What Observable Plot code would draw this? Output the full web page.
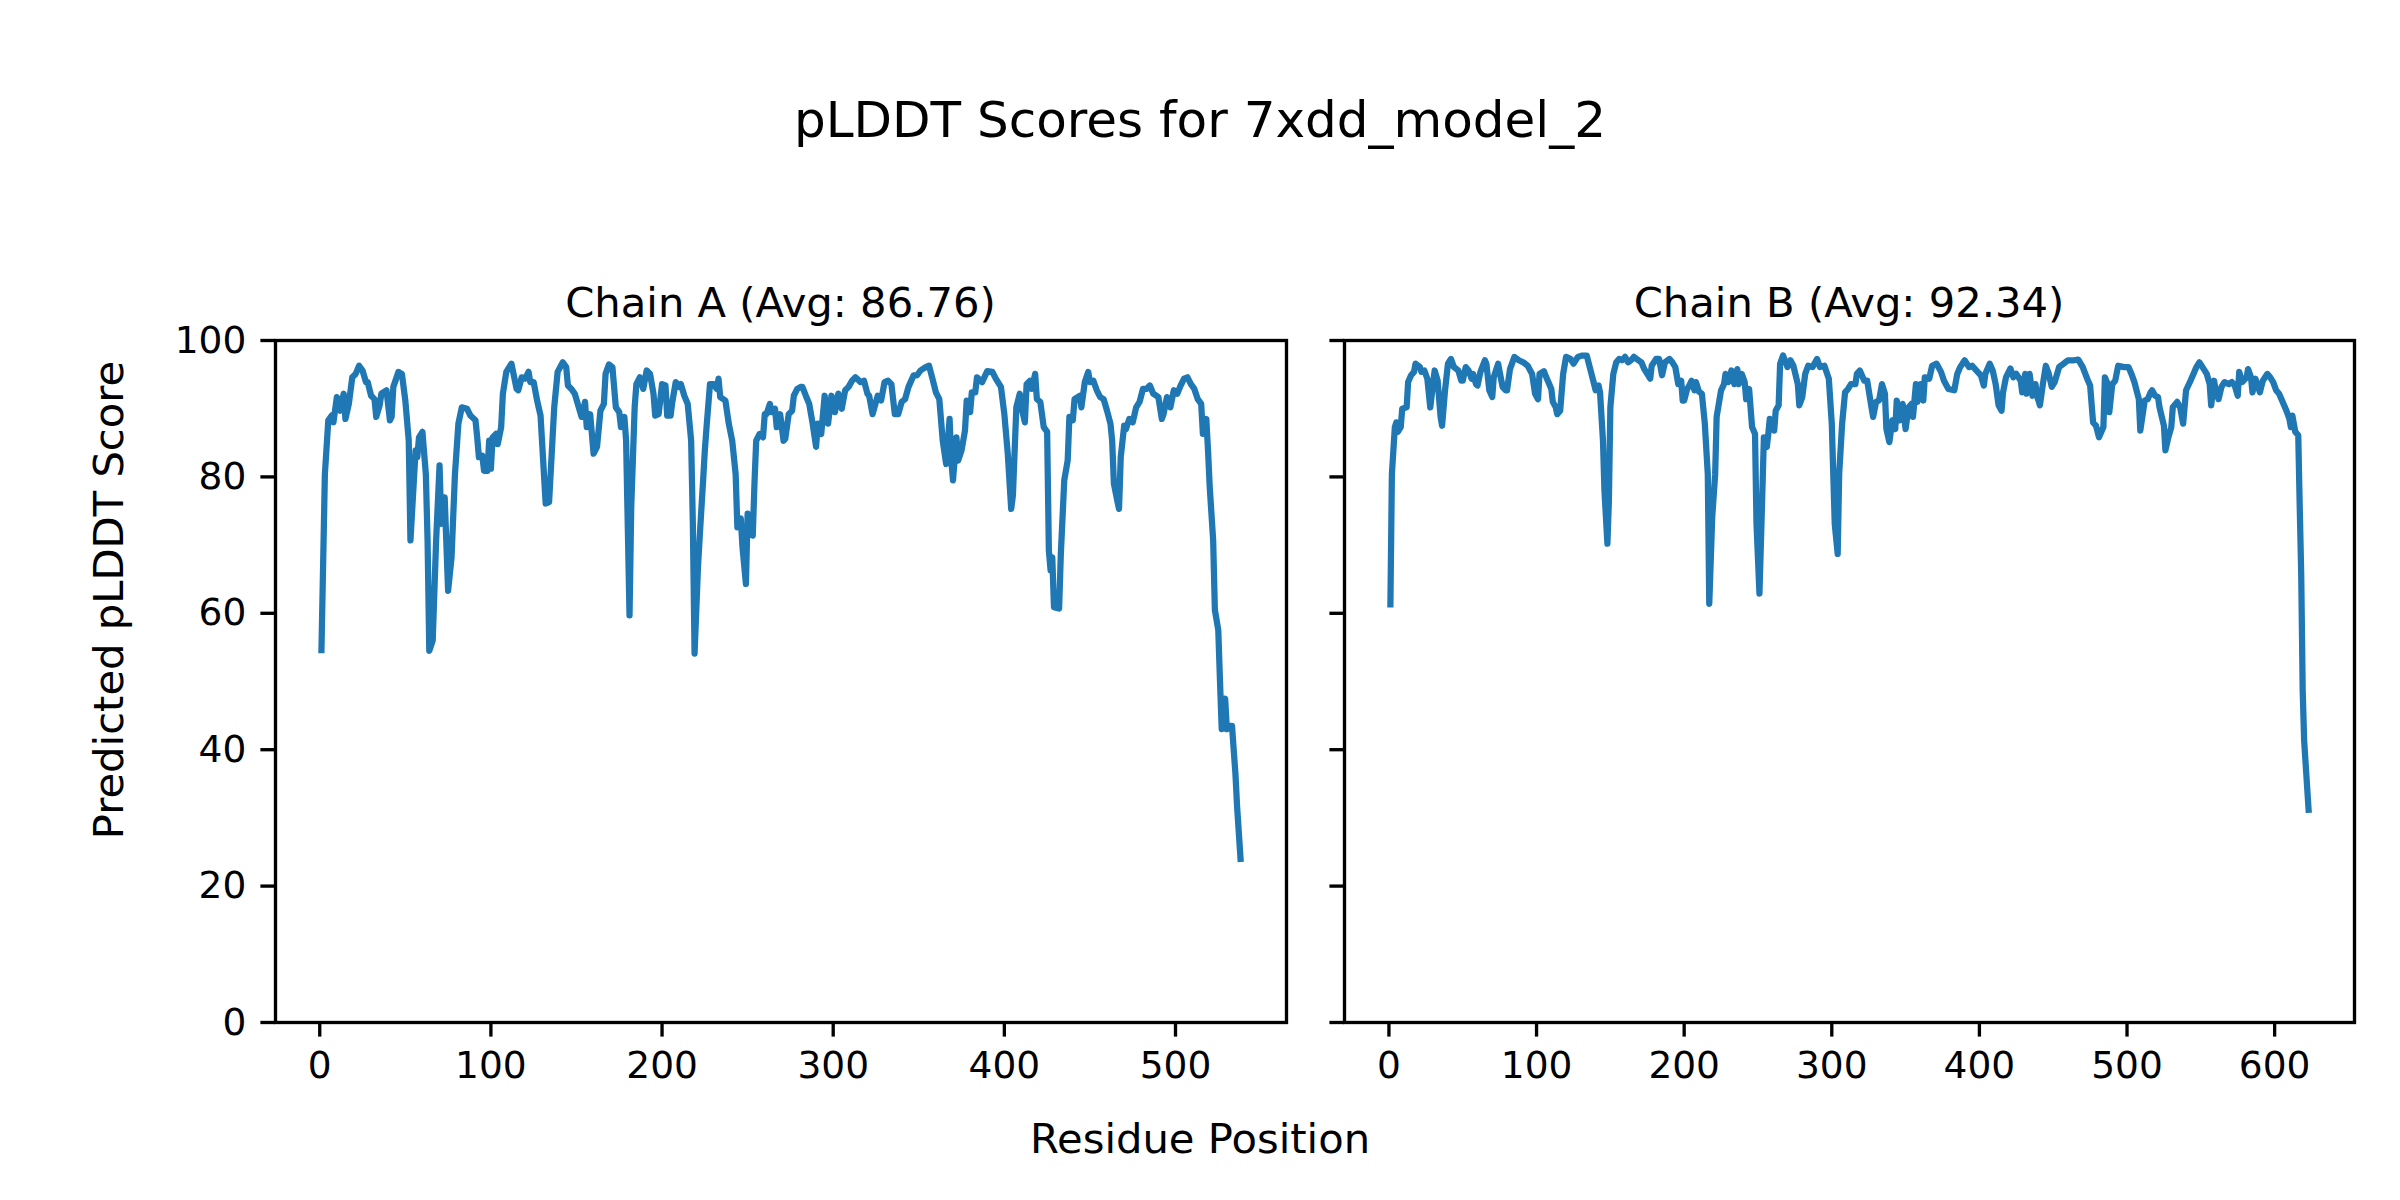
<!DOCTYPE html>
<html>
<head>
<meta charset="utf-8">
<script src="https://cdn.jsdelivr.net/npm/d3@7"></script>
<script src="https://cdn.jsdelivr.net/npm/@observablehq/plot@0.6"></script>
<style>
  html, body { margin: 0; padding: 0; background: #ffffff; }
  #fig { position: relative; width: 2400px; height: 1200px; background: #ffffff; font-family: "DejaVu Sans", sans-serif; color: #000; overflow: hidden; }
  #fig svg { position: absolute; left: 0; top: 0; max-width: none; }
  .txt { position: absolute; white-space: nowrap; line-height: 1; }
</style>
</head>
<body>
<div id="fig"></div>
<script>
// ---------------- data ----------------
const figureTitle = "pLDDT Scores for 7xdd_model_2";
const xAxisLabel = "Residue Position";
const yAxisLabel = "Predicted pLDDT Score";
const chainNames = ["A", "B"];
const chainAverages = [86.76, 92.34];
const xTicksA = [0, 100, 200, 300, 400, 500];
const xTicksB = [0, 100, 200, 300, 400, 500, 600];
const yTicks = [0, 20, 40, 60, 80, 100];

// [residue, pLDDT]
const chainA = [[1,54.6],[3,80.4],[5,88.3],[7,89],[8,88],[10,91.7],[12,89.7],[14,92.2],[15,88.5],[17,90.7],[19,94.6],[21,95.1],[23,96.3],[25,95.6],[27,93.9],[28,93.9],[30,91.9],[32,91.4],[33,88.8],[35,90.5],[36,92.2],[39,92.7],[41,88.3],[42,88.8],[43,93.2],[46,95.4],[48,95.1],[50,91.2],[52,85.3],[53,70.7],[55,79.5],[56,83.9],[57,82.9],[58,85.8],[60,86.6],[62,80.4],[63,70.7],[64,54.5],[66,56],[68,70.7],[70,81.7],[71,73.1],[73,77],[75,63.3],[77,68.2],[79,80.4],[81,87.8],[83,90.2],[86,90],[88,89],[91,88.3],[92,85.8],[93,82.9],[95,83.1],[96,80.9],[98,80.9],[99,85.3],[100,81.2],[101,85.8],[103,86.3],[104,84.8],[106,87.3],[107,92.2],[109,95.4],[112,96.6],[115,92.9],[116,92.7],[118,94.6],[120,94.4],[122,95.4],[123,93.9],[125,93.9],[127,91.2],[129,89],[132,76.1],[134,76.3],[137,90.2],[139,95.4],[142,96.8],[144,96.1],[145,93.4],[147,92.9],[149,92.2],[151,90.5],[153,88.8],[155,91],[156,87.3],[158,89.2],[160,83.4],[162,84.4],[164,89.7],[166,90.7],[167,95.1],[169,96.5],[171,96.1],[173,90.2],[175,89.5],[176,87.3],[178,88.8],[179,85.3],[181,59.7],[182,75.6],[184,90.2],[185,93.6],[187,94.6],[189,92.9],[191,95.6],[193,95.1],[195,92.2],[196,89],[198,89.2],[200,93.6],[202,93.4],[203,89],[205,89],[206,91],[208,93.9],[210,93.2],[211,93.6],[213,91.9],[215,90.7],[217,85.3],[218,73.1],[219,54.1],[221,66.8],[222,71.2],[224,79.5],[225,83.9],[226,87.3],[228,93.6],[230,93.6],[232,92.9],[233,94.4],[234,91.7],[237,91.2],[239,87.8],[241,85.3],[243,80.4],[244,72.6],[246,73.9],[247,69.7],[249,64.3],[250,74.6],[251,71.7],[253,71.4],[254,79],[255,85.3],[257,86.3],[259,85.8],[260,89.2],[261,89.2],[263,90.7],[264,89.5],[266,90],[267,87.3],[269,89.2],[271,85.3],[272,85.6],[274,89.2],[276,89.7],[277,91.9],[279,92.9],[281,93.2],[282,93.2],[284,91.9],[286,90.7],[288,87.8],[290,84.4],[291,87.8],[293,86.3],[295,91.9],[297,87.8],[299,91.9],[301,89.5],[303,92.2],[305,90],[307,92.7],[309,93.2],[311,94.1],[313,94.6],[316,93.9],[318,94.1],[320,92.2],[321,91.9],[323,89.2],[326,91.9],[328,91.2],[330,93.9],[332,94.1],[334,93.6],[336,89.2],[338,89.2],[340,91],[342,91.4],[344,93.2],[347,94.9],[349,94.9],[351,95.6],[354,96.1],[356,96.3],[358,94.4],[360,92.4],[362,91.4],[364,85.3],[366,81.9],[368,88.5],[369,82.4],[370,79.5],[372,85.8],[373,82.4],[375,83.9],[377,86.8],[378,91.2],[380,89.5],[381,92.4],[383,92.4],[384,94.6],[387,93.9],[390,95.5],[393,95.4],[395,94.4],[398,93.2],[400,89.2],[402,83.4],[404,75.3],[405,77.3],[407,90.2],[409,92.2],[410,90.2],[412,88],[413,93.6],[415,94.1],[416,92.9],[418,95.1],[419,91.4],[421,91],[423,87.3],[425,86.6],[426,69.2],[427,66.3],[428,68.2],[429,60.9],[432,60.7],[433,68.7],[435,79.5],[437,82.4],[438,88.8],[440,88.3],[441,91.4],[444,91.9],[445,90.2],[447,93.9],[449,95.4],[450,93.9],[452,94.1],[454,92.7],[456,91.7],[458,91.4],[460,89.7],[462,87.8],[463,85.3],[464,79],[466,76.5],[467,75.3],[468,82.9],[470,87.5],[471,87],[473,88.5],[475,88],[477,90.2],[479,91],[481,92.9],[483,92.9],[485,93.4],[487,92.2],[490,91.7],[492,88.5],[493,89.2],[495,91.7],[497,90.2],[499,92.7],[501,92.2],[503,93.4],[505,94.4],[507,94.6],[509,93.6],[511,92.9],[513,91.4],[515,90.7],[516,86.3],[518,88.5],[519,83.9],[520,78.5],[522,70.7],[523,60.5],[525,57.5],[526,50],[527,43],[529,47.5],[530,43],[531,43.5],[533,43.5],[535,36.5],[536,31.6],[538,24]];

const chainB = [[1,61.3],[2,80.4],[4,87.3],[5,88],[6,86.6],[8,87.3],[9,90],[12,90.2],[13,93.9],[15,94.9],[17,95.4],[18,96.6],[21,96.1],[22,95.4],[24,95.6],[26,94.4],[28,90.2],[30,93.9],[31,95.6],[33,94.1],[35,88.8],[36,87.5],[38,92.7],[40,96.6],[42,97.3],[44,96.1],[47,95.6],[49,94.1],[50,94.1],[52,96.1],[54,95.6],[56,94.4],[57,95.1],[59,93.6],[60,93.4],[62,95.4],[65,97.1],[66,96.6],[68,92.7],[70,91.7],[71,94.6],[74,96.6],[75,95.4],[77,93.2],[79,92.7],[80,92.7],[82,95.8],[85,97.6],[88,97.1],[91,96.8],[94,96.3],[97,95.1],[99,92.2],[101,91.4],[102,95.1],[105,95.5],[106,94.9],[108,93.9],[110,92.9],[111,91],[113,90.2],[114,89.2],[116,89.7],[118,95.1],[120,97.6],[123,97.3],[125,96.6],[128,97.6],[131,97.8],[134,97.8],[136,96.1],[139,93.6],[140,92.7],[142,93.4],[143,92.4],[145,85.3],[146,78],[148,70.2],[149,76.5],[150,90.2],[152,95.1],[154,96.8],[156,97.3],[158,97.1],[160,97.6],[162,96.8],[164,97.1],[166,97.6],[169,97.1],[171,96.8],[173,95.8],[175,95.1],[177,94.4],[178,96.3],[181,97.3],[183,97.3],[185,94.9],[187,96.8],[190,97.3],[192,96.8],[194,96.1],[196,93.6],[198,94.1],[199,91.2],[200,91.2],[202,92.9],[203,93.2],[205,94.1],[207,92.7],[208,93.9],[210,92.5],[212,92.2],[214,87.8],[216,80.4],[217,61.4],[219,74.1],[221,80.4],[222,88.8],[225,92.7],[227,93.6],[228,95.1],[230,93.9],[232,95.6],[234,93.6],[236,95.8],[237,93.6],[239,95.1],[241,93.9],[242,91.4],[244,92.9],[246,87.3],[248,86.3],[249,73.1],[251,62.9],[253,78],[254,85.8],[256,84.4],[257,86.3],[258,88.5],[261,86.8],[262,89.7],[264,90.5],[265,96.6],[267,97.8],[270,96.1],[272,97.1],[274,96.3],[277,93.6],[278,90.5],[280,91.7],[282,95.1],[284,96.3],[287,96.1],[290,97.3],[292,96.1],[295,96.3],[298,94.4],[300,87.8],[302,73.1],[304,68.7],[305,80.4],[307,87.8],[309,92.4],[311,92.9],[313,93.6],[316,93.6],[317,95.1],[319,95.6],[322,94.1],[324,94.1],[326,91.4],[328,88.8],[330,91],[332,91.2],[334,93.6],[336,92.2],[337,87],[339,85.1],[341,88.3],[343,87],[344,91.2],[346,88.3],[348,90.7],[350,87],[352,90.2],[354,90.7],[355,88.8],[357,93.6],[358,91],[360,93.6],[362,91.2],[363,94.6],[366,94.4],[368,96.3],[371,96.6],[374,95.4],[376,94.1],[379,92.9],[383,92.7],[385,95.1],[387,96.1],[390,97.1],[393,96.1],[395,96.3],[398,95.6],[401,94.9],[403,93.4],[404,95.1],[407,96.6],[409,95.6],[411,93.6],[413,90.5],[415,89.7],[416,92.4],[418,94.6],[421,95.9],[423,94.6],[425,95.1],[428,94.1],[429,92.4],[431,95.1],[432,92.2],[434,95.1],[436,91.9],[438,93.6],[439,91.9],[441,90.5],[443,93.6],[445,96.3],[447,95.1],[449,93.2],[451,93.9],[454,96.1],[457,96.6],[460,97.1],[464,97.1],[467,97.2],[470,96.1],[473,94.4],[475,93.4],[477,88],[479,87.5],[481,85.8],[484,87.3],[485,94.6],[487,93.6],[488,89.5],[490,93.6],[492,94.1],[494,96.3],[498,96.1],[501,96.1],[503,95.1],[505,93.9],[508,91.4],[509,86.8],[512,91.2],[514,91.4],[516,92.4],[517,92.7],[519,91.9],[521,91.7],[522,90.2],[525,87.5],[526,83.9],[528,85.8],[530,87.3],[531,90.2],[534,91],[536,90.2],[538,87.8],[540,92.7],[543,94.1],[545,95.1],[547,96.1],[549,96.8],[552,95.8],[554,95.1],[556,93.6],[557,90.5],[559,94.1],[560,92.7],[562,91.4],[564,93.2],[566,93.9],[569,93.6],[571,93.9],[573,93.4],[575,91.9],[576,95.4],[578,93.9],[581,94.6],[582,95.8],[584,94.6],[585,92.4],[587,94.4],[590,92.4],[592,94.1],[595,95.1],[597,94.6],[599,93.9],[601,92.7],[603,92.2],[605,91.2],[608,89.7],[610,88.5],[611,87.3],[612,89],[614,86.6],[616,86.1],[617,75.6],[618,65.8],[619,48.7],[620,41.3],[623,31.2]];

// ---------------- layout ----------------
const W = 2400, H = 1200;
const axTop = 340, axBottom = 1022;
const axA = {left: 275, right: 1286};
const axB = {left: 1344, right: 2354};
const lineColor = "#1f77b4";
const spineW = 3.33, tickLen = 14.6, tickPad = 14.6, lineW = 6.25;
const fontFam = "DejaVu Sans";
const tickFont = 37.5, labelFont = 41.7, titleFont = 50;

function paddedDomain(rows) {
  const ext = d3.extent(rows, d => d[0]);
  const pad = (ext[1] - ext[0]) * 0.05;
  return [ext[0] - pad, ext[1] + pad];
}

function panel(rows, ax, xTicks, showYText) {
  const data = rows.map(([pos, score]) => ({pos, score}));
  return Plot.plot({
    width: W, height: H,
    marginLeft: ax.left, marginRight: W - ax.right,
    marginTop: axTop, marginBottom: H - axBottom,
    style: {fontFamily: fontFam, fontSize: tickFont + "px", background: "transparent", color: "#000", overflow: "visible"},
    x: {domain: paddedDomain(rows)},
    y: {domain: [0, 100]},
    marks: [
      Plot.line(data, {x: "pos", y: "score", stroke: lineColor, strokeWidth: lineW, strokeLinejoin: "round", strokeLinecap: "square"}),
      Plot.frame({stroke: "#000", strokeWidth: spineW}),
      Plot.axisX({ticks: xTicks, tickFormat: d => String(d), tickSize: tickLen, tickPadding: tickPad, strokeWidth: spineW, stroke: "#000", fill: "#000", fontSize: tickFont, label: null}),
      showYText
        ? Plot.axisY({ticks: yTicks, tickFormat: d => String(d), tickSize: tickLen, tickPadding: tickPad, strokeWidth: spineW, stroke: "#000", fill: "#000", fontSize: tickFont, label: null})
        : Plot.axisY({ticks: yTicks, tickSize: tickLen, strokeWidth: spineW, stroke: "#000", fill: "none", label: null})
    ]
  });
}

const fig = document.getElementById("fig");
fig.appendChild(panel(chainA, axA, xTicksA, true));
fig.appendChild(panel(chainB, axB, xTicksB, false));

// text helper: places text with its baseline at (x, baselineY)
const ASC = 0.846; // DejaVu Sans baseline offset for line-height 1
function addText(str, x, baselineY, size, rotate) {
  const holder = document.createElement("div");
  holder.style.position = "absolute";
  holder.style.left = "0px";
  holder.style.top = "0px";
  holder.style.transform = `translate(${x}px, ${baselineY}px)` + (rotate ? " rotate(-90deg)" : "");
  holder.style.transformOrigin = "0 0";
  const span = document.createElement("span");
  span.className = "txt";
  span.textContent = str;
  span.style.fontSize = size + "px";
  span.style.left = "0px";
  span.style.top = "0px";
  span.style.transform = `translate(-50%, ${-ASC * size}px)`;
  holder.appendChild(span);
  fig.appendChild(holder);
}

addText(figureTitle, 1200, 137, titleFont, false);
addText(`Chain ${chainNames[0]} (Avg: ${chainAverages[0].toFixed(2)})`, (axA.left + axA.right) / 2, 317, labelFont, false);
addText(`Chain ${chainNames[1]} (Avg: ${chainAverages[1].toFixed(2)})`, (axB.left + axB.right) / 2, 317, labelFont, false);
addText(xAxisLabel, 1200, 1153, labelFont, false);
addText(yAxisLabel, 123, H / 2, labelFont, true);
</script>
</body>
</html>
